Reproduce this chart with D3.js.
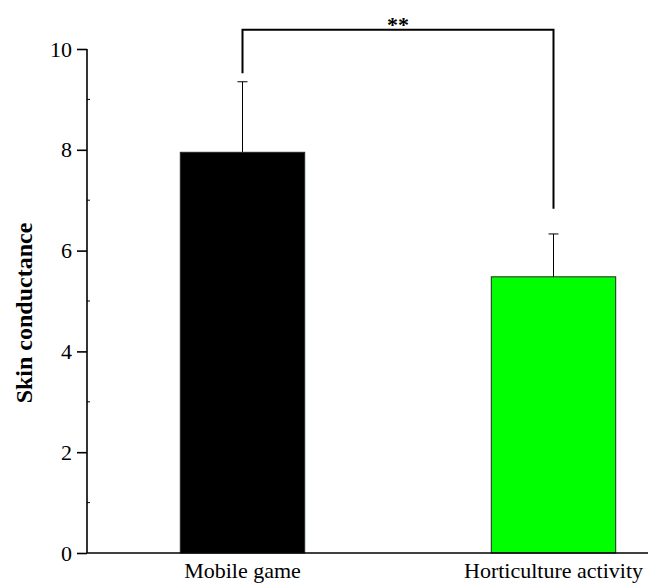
<!DOCTYPE html>
<html>
<head>
<meta charset="utf-8">
<script src="https://cdn.jsdelivr.net/npm/d3@7"></script>
<style>
  body { margin: 0; background: #fff; }
  svg text { font-family: "Liberation Serif", "Times New Roman", serif; }
</style>
</head>
<body>
<div id="chart"></div>
<script>
// data
var categories = ["Mobile game", "Horticulture activity"];
var means = [7.95, 5.48];
var errors = [1.40, 0.85];
var barColors = ["#000000", "#00ff00"];
var yTicks = [0, 2, 4, 6, 8, 10];
var yMinorTicks = [1, 3, 5, 7, 9];
// significance bracket: top level and leg ends, in data units
var sigLabel = "**";
var sigLevel = 10.38;
var sigLegEnds = [9.52, 6.83];

var w = 648;
var h = 584;

var svg = d3.select("#chart").append("svg").attr("width", w).attr("height", h);

var xScale = d3.scaleBand().domain(categories)
    .range([87, 709]).paddingInner(0.6).paddingOuter(0.3);

var yScale = d3.scaleLinear().domain([0, 10]).range([553, 49]);

// bars
svg.selectAll("rect.bar").data(means).enter().append("rect")
    .attr("class", "bar")
    .attr("x", function (d, i) { return xScale(categories[i]); })
    .attr("y", function (d) { return yScale(d); })
    .attr("width", xScale.bandwidth())
    .attr("height", function (d) { return yScale(0) - yScale(d); })
    .attr("fill", function (d, i) { return barColors[i]; })
    .attr("stroke", "#1e2a1e")
    .attr("stroke-width", 1);

// error bars (upper only)
var cx = function (i) { return xScale(categories[i]) + xScale.bandwidth() / 2; };
var eb = svg.selectAll("g.err").data(means).enter().append("g").attr("class", "err")
    .attr("stroke", "#000").attr("stroke-width", 1);
eb.append("line")
    .attr("x1", function (d, i) { return cx(i); })
    .attr("x2", function (d, i) { return cx(i); })
    .attr("y1", function (d) { return yScale(d); })
    .attr("y2", function (d, i) { return yScale(d + errors[i]); });
eb.append("line")
    .attr("x1", function (d, i) { return cx(i) - 5; })
    .attr("x2", function (d, i) { return cx(i) + 5; })
    .attr("y1", function (d, i) { return yScale(d + errors[i]); })
    .attr("y2", function (d, i) { return yScale(d + errors[i]); });

// axes
var yAxis = d3.axisLeft(yScale).tickValues(yTicks).tickSize(10).tickPadding(5).tickFormat(d3.format("d"));
var gy = svg.append("g").attr("transform", "translate(87,0)").call(yAxis);
gy.select(".domain").remove();
gy.selectAll(".tick line").attr("stroke-width", 1.6);
gy.selectAll(".tick text").style("font-size", "22px").attr("fill", "#000");

svg.append("line").attr("x1", 87).attr("x2", 87)
    .attr("y1", yScale(10)).attr("y2", yScale(0))
    .attr("stroke", "#000").attr("stroke-width", 1.6);

svg.selectAll("line.minor").data(yMinorTicks).enter().append("line")
    .attr("class", "minor")
    .attr("x1", 87).attr("x2", 90)
    .attr("y1", function (d) { return yScale(d); })
    .attr("y2", function (d) { return yScale(d); })
    .attr("stroke", "#000").attr("stroke-width", 1);

// x axis
svg.append("line").attr("x1", 87).attr("x2", w)
    .attr("y1", yScale(0)).attr("y2", yScale(0))
    .attr("stroke", "#000").attr("stroke-width", 1.6);

svg.selectAll("text.cat").data(categories).enter().append("text")
    .attr("class", "cat")
    .attr("x", function (d, i) { return cx(i); })
    .attr("y", 578)
    .attr("text-anchor", "middle")
    .style("font-size", "22px")
    .text(function (d) { return d; });

// y label
svg.append("text")
    .attr("transform", "translate(32,313) rotate(-90)")
    .attr("text-anchor", "middle")
    .style("font-size", "24px")
    .style("font-weight", "bold")
    .text("Skin conductance");

// significance bracket
var bracket = d3.line()([
    [cx(0), yScale(sigLegEnds[0])],
    [cx(0), yScale(sigLevel)],
    [cx(1), yScale(sigLevel)],
    [cx(1), yScale(sigLegEnds[1])]
]);
svg.append("path").attr("d", bracket)
    .attr("fill", "none").attr("stroke", "#000").attr("stroke-width", 2);

svg.append("text")
    .attr("x", (cx(0) + cx(1)) / 2)
    .attr("y", yScale(sigLevel) + 2)
    .attr("text-anchor", "middle")
    .style("font-size", "22px")
    .style("font-weight", "bold")
    .text(sigLabel);
</script>
</body>
</html>
